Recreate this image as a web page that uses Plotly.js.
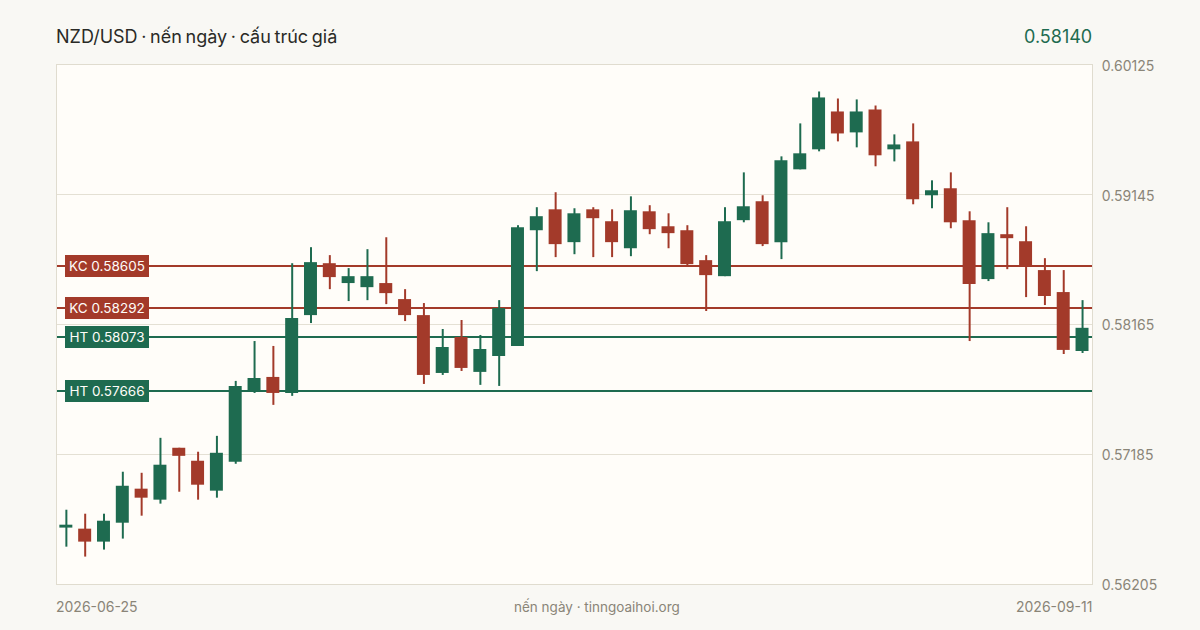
<!DOCTYPE html>
<html>
<head>
<meta charset="utf-8">
<script src="https://cdn.plot.ly/plotly-3.0.1.min.js"></script>
<style>
  html, body { margin: 0; padding: 0; background: #f9f8f4; }
  .shapelayer path { shape-rendering: crispEdges; }
  .gtitle { word-spacing: -1.4px; }
</style>
</head>
<body>
<div id="chart" style="width:1200px;height:630px;"></div>
<script>
// nen ngay NZD/USD, doc tu hinh
const open = [0.56631,0.56623,0.56525,0.56668,0.56925,0.56842,0.57234,0.57136,0.56910,0.57128,0.57656,0.57769,0.57648,0.58236,0.58628,0.58478,0.58447,0.58478,0.58357,0.58236,0.57799,0.58071,0.57807,0.57927,0.58003,0.58877,0.59035,0.58787,0.59035,0.58945,0.58741,0.59020,0.58907,0.58877,0.58651,0.58530,0.58953,0.59096,0.58787,0.59337,0.59488,0.59774,0.59616,0.59789,0.59488,0.59548,0.59141,0.59194,0.58953,0.58508,0.58847,0.58794,0.58576,0.58410,0.57965];
const high = [0.56766,0.56736,0.56736,0.57053,0.57045,0.57309,0.57234,0.57204,0.57324,0.57739,0.58040,0.58003,0.58628,0.58749,0.58689,0.58591,0.58734,0.58824,0.58432,0.58327,0.58131,0.58199,0.58086,0.58349,0.58915,0.59051,0.59164,0.59043,0.59051,0.59035,0.59133,0.59066,0.59005,0.58915,0.58689,0.59051,0.59314,0.59141,0.59435,0.59684,0.59925,0.59872,0.59865,0.59819,0.59601,0.59684,0.59254,0.59314,0.59020,0.58937,0.59051,0.58907,0.58666,0.58576,0.58349];
const low = [0.56487,0.56412,0.56465,0.56548,0.56721,0.56812,0.56902,0.56842,0.56857,0.57113,0.57648,0.57558,0.57626,0.58176,0.58432,0.58342,0.58349,0.58319,0.58191,0.57716,0.57784,0.57814,0.57709,0.57701,0.58003,0.58568,0.58674,0.58696,0.58674,0.58674,0.58681,0.58847,0.58741,0.58606,0.58267,0.58530,0.58937,0.58757,0.58659,0.59337,0.59473,0.59548,0.59503,0.59360,0.59397,0.59073,0.59043,0.58892,0.58040,0.58493,0.58583,0.58372,0.58312,0.57942,0.57950];
const close = [0.56653,0.56525,0.56683,0.56947,0.56857,0.57106,0.57173,0.56955,0.57196,0.57701,0.57761,0.57648,0.58214,0.58636,0.58523,0.58530,0.58530,0.58402,0.58236,0.57784,0.57995,0.57837,0.57980,0.58289,0.58900,0.58983,0.58772,0.59005,0.58968,0.58787,0.59028,0.58885,0.58855,0.58621,0.58538,0.58945,0.59058,0.58772,0.59405,0.59458,0.59880,0.59608,0.59774,0.59443,0.59525,0.59111,0.59179,0.58937,0.58470,0.58855,0.58817,0.58606,0.58380,0.57973,0.58140];

const levelNames = ["KC 0.58605", "KC 0.58292", "HT 0.58073", "HT 0.57666"];
const levelValues = [0.58605, 0.58292, 0.58073, 0.57666];
const yTicks = [0.60125, 0.59145, 0.58165, 0.57185, 0.56205];

const green = "#1e6b50";
const red = "#a33a2a";
const muted = "#8a8578";
const font = "Inter, sans-serif";

const x = close.map((_, i) => i);
const colors = close.map((c, i) => (c >= open[i] ? green : red));

const wicks = {
    type: "bar",
    x: x,
    base: low,
    y: high.map((h, i) => h - low[i]),
    width: 0.106,
    offset: -0.025,
    marker: { color: colors },
    hoverinfo: "skip"
};

const bodies = {
    type: "bar",
    x: x,
    base: close.map((c, i) => Math.min(c, open[i])),
    y: close.map((c, i) => Math.abs(c - open[i])),
    width: 0.69,
    marker: { color: colors },
    hoverinfo: "skip"
};

const shapes = levelValues.map((v, i) => ({
    type: "line",
    layer: "below",
    xref: "paper",
    x0: 0,
    x1: 1,
    y0: v,
    y1: v,
    line: { color: levelNames[i].startsWith("KC") ? red : green, width: 2 }
}));

const levelLabels = levelValues.map((v, i) => ({
    xref: "paper",
    x: 0,
    xshift: 7.5,
    xanchor: "left",
    y: v,
    yanchor: "middle",
    text: levelNames[i],
    showarrow: false,
    bgcolor: levelNames[i].startsWith("KC") ? red : green,
    borderpad: 3,
    borderwidth: 0,
    width: 78,
    height: 16,
    font: { family: font, size: 13.5, color: "#fffdf9" }
}));

function pageText(text, px, py, anchor, size, color, shift) {
    return {
        xref: "paper",
        yref: "paper",
        x: (px - 56.5) / 1036,
        xshift: shift || 0,
        y: (584.5 - py) / 520,
        xanchor: anchor,
        yanchor: "middle",
        text: text,
        showarrow: false,
        borderpad: 0,
        font: { family: font, size: size, color: color }
    };
}

const layout = {
    width: 1200,
    height: 630,
    margin: { l: 56.5, r: 107.5, t: 64.5, b: 45.5, pad: 0 },
    paper_bgcolor: "#f9f8f4",
    plot_bgcolor: "#fffdf9",
    showlegend: false,
    hovermode: false,
    barmode: "overlay",
    title: {
        text: "NZD/USD · nến ngày · cấu trúc giá",
        x: 56 / 1200,
        xanchor: "left",
        y: 1 - 37 / 630,
        yanchor: "middle",
        font: { family: font, size: 18, color: "#2a2a26" }
    },
    xaxis: {
        range: [-0.47, 54.53],
        showgrid: false,
        zeroline: false,
        showticklabels: false,
        ticks: "",
        showline: true,
        mirror: true,
        linecolor: "#e0dccf",
        linewidth: 1
    },
    yaxis: {
        range: [0.56205, 0.60125],
        side: "right",
        tickvals: yTicks,
        ticktext: yTicks.map(v => v.toFixed(5)),
        ticks: "",
        ticklabelstandoff: 6,
        ticklabelshift: 1,
        tickfont: { family: font, size: 14, color: muted },
        gridcolor: "#e4e0d4",
        gridwidth: 1,
        zeroline: false,
        showline: true,
        mirror: true,
        linecolor: "#e0dccf",
        linewidth: 1
    },
    shapes: shapes,
    annotations: levelLabels.concat([
        pageText("0.58140", 1092, 36, "right", 18, green, 1),
        pageText("2026-06-25", 56, 607.5, "left", 14, muted, -2),
        pageText("nến ngày · tinngoaihoi.org", 597, 607.5, "center", 13.5, muted),
        pageText("2026-09-11", 1092, 607.5, "right", 14, muted, 1)
    ])
};

Plotly.newPlot("chart", [wicks, bodies], layout, { displayModeBar: false, staticPlot: true });
</script>
</body>
</html>
